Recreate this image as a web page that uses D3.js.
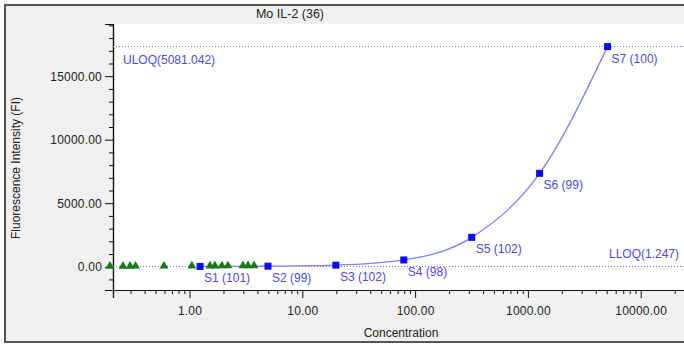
<!DOCTYPE html>
<html>
<head>
<meta charset="utf-8">
<script src="https://cdn.jsdelivr.net/npm/d3@7"></script>
<style>
  html, body { margin: 0; padding: 0; background: #fff; }
  svg { display: block; font-family: "Liberation Sans", Arial, sans-serif; }
</style>
</head>
<body>
<svg id="chart" width="684" height="347"></svg>
<script>
// Standard curve: 4-fold serial dilution from the top standard
const stdNames = ["S1", "S2", "S3", "S4", "S5", "S6", "S7"];
const stdRecovery = [101, 99, 102, 98, 102, 99, 100];
const stdConc = [1.2405, 4.962, 19.85, 79.39, 317.57, 1270.26, 5081.042];
const stdFI = [20, 40, 120, 530, 2310, 7350, 17330];

// Samples
const sampleConc = [0.197, 0.257, 0.297, 0.332, 0.594, 1.05, 1.52, 1.68, 1.94, 2.19, 2.98, 3.30, 3.73];
const sampleFI = [5, 8, 10, 12, 15, 18, 25, 27, 30, 33, 38, 40, 42];

// Quantitation limits
const uloqConc = 5081.042;
const lloqConc = 1.247;

const yMajorTicks = [0, 5000, 10000, 15000];
const xMajorTicks = [1, 10, 100, 1000, 10000];

const title = "Mo IL-2 (36)";

const svg = d3.select("#chart");
const W = 684, H = 347;

// Panel frame
svg.append("rect").attr("x", 0).attr("y", 0).attr("width", W).attr("height", H).attr("fill", "#ffffff");
svg.append("rect").attr("x", 5).attr("y", 5).attr("width", 700).attr("height", 337)
  .attr("fill", "#f0f0f0").attr("stroke", "#555").attr("stroke-width", 2);

svg.append("text").attr("x", 290).attr("y", 18).attr("text-anchor", "middle")
  .attr("font-size", 12.5).attr("fill", "#222").text(title);

const plot = { left: 113, right: 700, top: 24, bottom: 290 };

// Scales
const pxPerDecade = 112.8, xAtOne = 189.5;
const x = d3.scaleLog()
  .domain([Math.pow(10, (plot.left - xAtOne) / pxPerDecade), Math.pow(10, (plot.right - xAtOne) / pxPerDecade)])
  .range([plot.left, plot.right]);
const y = d3.scaleLinear().domain([-1835, 19110]).range([plot.bottom, plot.top]);

svg.append("rect").attr("x", plot.left).attr("y", plot.top)
  .attr("width", plot.right - plot.left).attr("height", plot.bottom - plot.top).attr("fill", "#fff");

const fmt = d3.format(".2f");

// Y axis: majors every 5000, minors every 1000
const yAxisMajor = d3.axisLeft(y).tickValues(yMajorTicks).tickSize(8).tickPadding(3).tickFormat(fmt);
const yMinor = d3.range(-1000, 19001, 1000).filter(v => !yMajorTicks.includes(v));
const yAxisMinor = d3.axisLeft(y).tickValues(yMinor).tickSize(4).tickFormat("");
const gy = svg.append("g").attr("transform", `translate(${plot.left},0)`);
gy.call(yAxisMinor);
gy.append("g").call(yAxisMajor);

// X axis: decades labelled, 2..9 as minor ticks
const xMinor = [];
[-1, 0, 1, 2, 3, 4].forEach(e => {
  for (let m = 2; m <= 9; m++) {
    const v = m * Math.pow(10, e);
    if (v >= x.domain()[0] && v <= x.domain()[1]) xMinor.push(v);
  }
});
const gx = svg.append("g").attr("transform", `translate(0,${plot.bottom})`);
gx.call(d3.axisBottom(x).tickValues(xMinor).tickSize(4).tickFormat(""));
gx.append("g").call(d3.axisBottom(x).tickValues(xMajorTicks).tickSize(8).tickPadding(8).tickFormat(fmt));

svg.selectAll(".domain").attr("stroke", "#111").attr("stroke-width", 1.2);
svg.selectAll(".tick line").attr("stroke", "#111");
svg.selectAll(".tick text").attr("font-size", 12).attr("fill", "#222")
  .attr("font-family", "'Liberation Sans', Arial, sans-serif").attr("letter-spacing", 0.2);

// Axis titles
svg.append("text").attr("x", 401).attr("y", 337).attr("text-anchor", "middle")
  .attr("font-size", 12).attr("fill", "#222").text("Concentration");
svg.append("text").attr("transform", "translate(20,168) rotate(-90)").attr("text-anchor", "middle")
  .attr("font-size", 12).attr("fill", "#222").text("Fluorescence Intensity (FI)");

const area = svg.append("g");

// Limit lines at the FI of the outermost standards
const limitColor = "#6a6af0";
const uloqFI = stdFI[stdConc.indexOf(uloqConc)];
const lloqFI = stdFI[0];
[uloqFI, lloqFI].forEach(v => {
  area.append("line").attr("x1", plot.left).attr("x2", plot.right)
    .attr("y1", y(v)).attr("y2", y(v))
    .attr("stroke", limitColor).attr("stroke-width", 1).attr("stroke-dasharray", "1,2");
});
area.append("text").attr("x", 123).attr("y", y(uloqFI) + 17)
  .attr("font-size", 12).attr("fill", "#4a4ae0").text(`ULOQ(${uloqConc.toFixed(3)})`);
area.append("text").attr("x", 679).attr("y", y(lloqFI) - 8).attr("text-anchor", "end")
  .attr("font-size", 12).attr("fill", "#4a4ae0").text(`LLOQ(${lloqConc.toFixed(3)})`);

// Fitted standard curve
const stdPts = stdConc.map((c, i) => [x(c), y(stdFI[i])]);
area.append("path").datum(stdPts)
  .attr("d", d3.line().curve(d3.curveMonotoneX))
  .attr("fill", "none").attr("stroke", "#7f7ff2").attr("stroke-width", 1.3);

// Samples: green triangles
const tri = d3.symbol().type(d3.symbolTriangle).size(34);
area.selectAll(".sample").data(sampleConc).join("path")
  .attr("class", "sample")
  .attr("transform", (c, i) => `translate(${x(c)},${y(sampleFI[i]) - 0.5})`)
  .attr("d", tri).attr("fill", "#177a17");

// Standards: blue squares with labels
area.selectAll(".std").data(stdConc).join("rect")
  .attr("class", "std")
  .attr("x", c => x(c) - 3.5).attr("y", (c, i) => y(stdFI[i]) - 3.5)
  .attr("width", 7).attr("height", 7).attr("fill", "#0a0af5");
area.selectAll(".stdlab").data(stdConc).join("text")
  .attr("class", "stdlab")
  .attr("x", c => x(c) + 4).attr("y", (c, i) => y(stdFI[i]) + 16)
  .attr("font-size", 12).attr("fill", "#4a4ae0")
  .text((c, i) => `${stdNames[i]} (${stdRecovery[i]})`);
</script>
</body>
</html>
